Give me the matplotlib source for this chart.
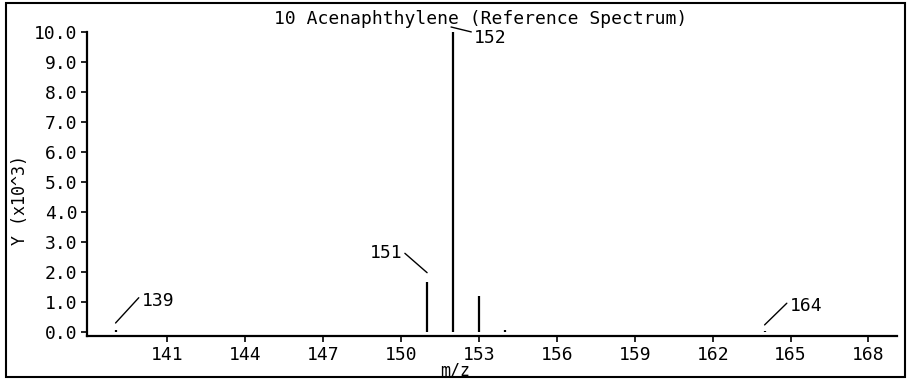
import numpy as np
import matplotlib
matplotlib.use("Agg")
import matplotlib.pyplot as plt
from matplotlib.transforms import ScaledTranslation
from matplotlib.patches import Rectangle

# spectrum peaks (m/z, intensity in 10^3)
mz = [139, 151, 152, 153, 154, 164]
intensity = [0.07, 1.68, 10.0, 1.2, 0.08, 0.04]

# labelled peaks
label_mz = [139, 151, 152, 164]
x_ticks = [141, 144, 147, 150, 153, 156, 159, 162, 165, 168]
y_ticks = [0, 1, 2, 3, 4, 5, 6, 7, 8, 9, 10]

title = "10 Acenaphthylene (Reference Spectrum)"

plt.rcParams["font.family"] = "DejaVu Sans Mono"
FS = 13

W, H = 909, 381
fig = plt.figure(figsize=(W / 100, H / 100), dpi=100)
ax = fig.add_axes([87 / W, 1 - 336 / H, 810 / W, 304 / H])

ax.vlines(mz, 0, intensity, color="black", lw=1.6)

ax.set_xlim(137.9, 169.1)
ax.set_ylim(-0.13, 10.0)
ax.set_xticks(x_ticks)
ax.set_yticks(y_ticks)
ax.set_yticklabels(["%.1f" % v for v in y_ticks])
for s in ["top", "right"]:
    ax.spines[s].set_visible(False)
for s in ["left", "bottom"]:
    ax.spines[s].set_linewidth(1.6)
ax.tick_params(axis="both", direction="out", length=4, width=1.2, pad=3, labelsize=FS)

ax.set_xlabel("m/z", fontsize=FS - 1)
ax.xaxis.set_label_coords((455 - 87) / 810, -0.085)
ax.set_ylabel("Y (x10^3)", fontsize=FS - 1)
ax.yaxis.set_label_coords(-0.072, 0.447)

fig.text(481 / W, 1 - 19 / H, title, ha="center", va="center", fontsize=FS)

# leader line tips and text offsets (pixels from the peak top), text alignment
label_style = {
    139: ((0, -7), (26, -29), "left", (0, 0.85)),
    151: ((0, -9), (-25, -29), "right", (1, 0.6)),
    152: ((-2, -5), (21, 6), "left", (0, 0.8)),
    164: ((0, -6), (25, -25), "left", (0, 0.8)),
}
px = 72 / 100  # points per pixel
for m in label_mz:
    val = intensity[mz.index(m)]
    tip, off, ha, rel = label_style[m]
    tr = ax.transData + ScaledTranslation(tip[0] / 100, -tip[1] / 100, fig.dpi_scale_trans)
    ax.annotate(str(m), xy=(m, val), xycoords=tr,
                xytext=((off[0] - tip[0]) * px, -(off[1] - tip[1]) * px),
                textcoords="offset points", ha=ha, va="center", fontsize=FS,
                annotation_clip=False,
                arrowprops=dict(arrowstyle="-", color="black", lw=1.0,
                                shrinkA=0, shrinkB=0, relpos=rel))

fig.patches.append(Rectangle((6, 4), 899, 374, transform=None, fill=False,
                             edgecolor="black", lw=1.5))

fig.savefig("out.png", dpi=100)
